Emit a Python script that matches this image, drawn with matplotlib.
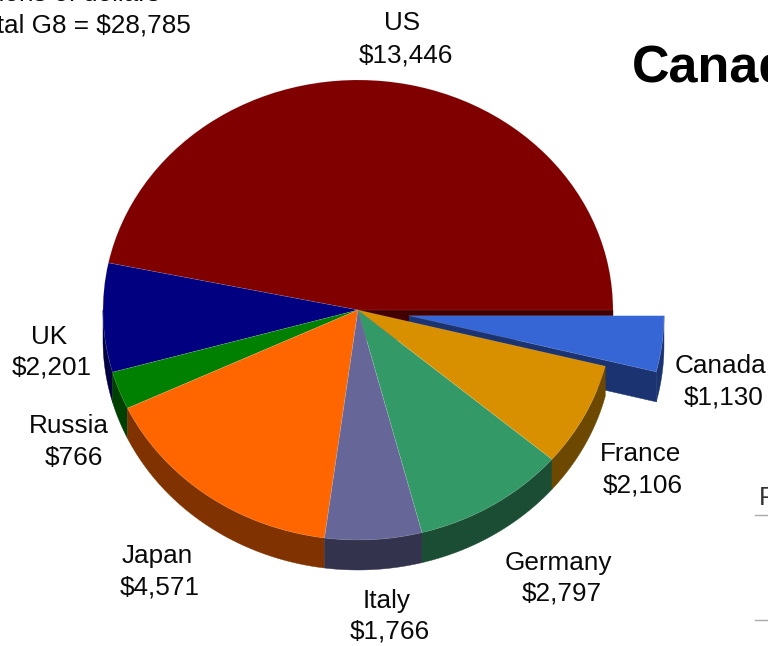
import numpy as np
import matplotlib
matplotlib.use('Agg')
import matplotlib.pyplot as plt
from matplotlib.lines import Line2D
from matplotlib.patches import Polygon

W, H = 768, 646

countries = ['US', 'UK', 'Russia', 'Japan', 'Italy', 'Germany', 'France', 'Canada']
spending = [13446, 2201, 766, 4571, 1766, 2797, 2106, 1130]
top_colors = ['#800000', '#000080', '#008000', '#ff6600', '#666699', '#339966', '#d99000', '#3666d6']
side_colors = ['#420000', '#000042', '#004000', '#803300', '#33334d', '#1a4d33', '#6d4800', '#1b3370']
explode = [0, 0, 0, 0, 0, 0, 0, 0.2015]
name_x = [402, 49, 69, 157, 387, 558, 640, 720]
name_y = [30, 344, 433, 563, 608, 570, 461, 373]
value_x = [406, 52, 74, 160, 390, 562, 643, 724]
value_y = [62, 375, 465, 594, 639, 601, 492, 404]

plt.rcParams['font.family'] = ['Liberation Sans', 'DejaVu Sans']

# pie centre and radii in pixels, the axes are stretched so a unit circle becomes an ellipse
cx, cy, rx, ry = 358, 310, 255, 230
depth = 30 / ry
label_size = 18.8

fig = plt.figure(figsize=(W / 100, H / 100), dpi=100)
ax = fig.add_axes([0, 0, 1, 1])

ax.pie(spending, explode=explode, colors=top_colors, startangle=0, counterclock=True,
       wedgeprops={'edgecolor': (1, 1, 1, 0.14), 'linewidth': 0.5, 'zorder': 3})


def side_wall(a0, a1, ox, oy, color, z):
  # outer rim, only the part facing the viewer
  a0, a1 = max(a0, 180), min(a1, 360)
  if a1 <= a0:
    return
  t = np.radians(np.linspace(a0, a1, 60))
  xs = ox + np.cos(t)
  ys = oy + np.sin(t)
  pts = np.r_[np.c_[xs, ys], np.c_[xs, ys - depth][::-1]]
  ax.add_patch(Polygon(pts, closed=True, fc=color, ec=color, lw=0.3, zorder=z))


def radial_wall(a, ox, oy, color, z):
  t = np.radians(a)
  x1, y1 = ox + np.cos(t), oy + np.sin(t)
  pts = [(ox, oy), (x1, y1), (x1, y1 - depth), (ox, oy - depth)]
  ax.add_patch(Polygon(pts, closed=True, fc=color, ec=color, lw=0.3, zorder=z))


edges = np.r_[0, np.cumsum(spending)] / sum(spending) * 360
for i in range(len(spending)):
  a0, a1 = edges[i], edges[i + 1]
  mid = np.radians((a0 + a1) / 2)
  ox, oy = explode[i] * np.cos(mid), explode[i] * np.sin(mid)
  z = 1 if explode[i] else 2
  side_wall(a0, a1, ox, oy, side_colors[i], z)
  if explode[i]:
    radial_wall(a0, ox, oy, side_colors[i], z)

# cut face of the US slice, seen through the gap left by Canada
radial_wall(360, 0, 0, side_colors[0], 0.5)

ax.set_aspect('auto')
ax.set_xlim(-cx / rx, (W - cx) / rx)
ax.set_ylim((cy - H) / ry, cy / ry)
ax.axis('off')

for i, name in enumerate(countries):
  fig.text(name_x[i] / W, 1 - name_y[i] / H, name, fontsize=label_size, ha='center', va='baseline', color='#0a0a0a')
  fig.text(value_x[i] / W, 1 - value_y[i] / H, f'${spending[i]:,}', fontsize=label_size, ha='center', va='baseline',
           color='#0a0a0a')

fig.text(160 / W, 1 - 1 / H, 'Billions of dollars', fontsize=label_size, ha='right', va='baseline', color='#0a0a0a')
fig.text(191 / W, 1 - 33 / H, 'Total G8 = $28,785', fontsize=label_size, ha='right', va='baseline', color='#0a0a0a')
fig.text(632 / W, 1 - 82 / H, 'Canada', fontsize=37.5, fontweight='bold', ha='left', va='baseline', color='black')
fig.text(759 / W, 1 - 505 / H, 'P', fontsize=label_size, ha='left', va='baseline', color='#333333')

for y in (515, 620):
  fig.add_artist(Line2D([755 / W, 1], [1 - y / H, 1 - y / H], color='#aaaaaa', lw=1))

fig.savefig('out.png', dpi=100)
plt.close(fig)
